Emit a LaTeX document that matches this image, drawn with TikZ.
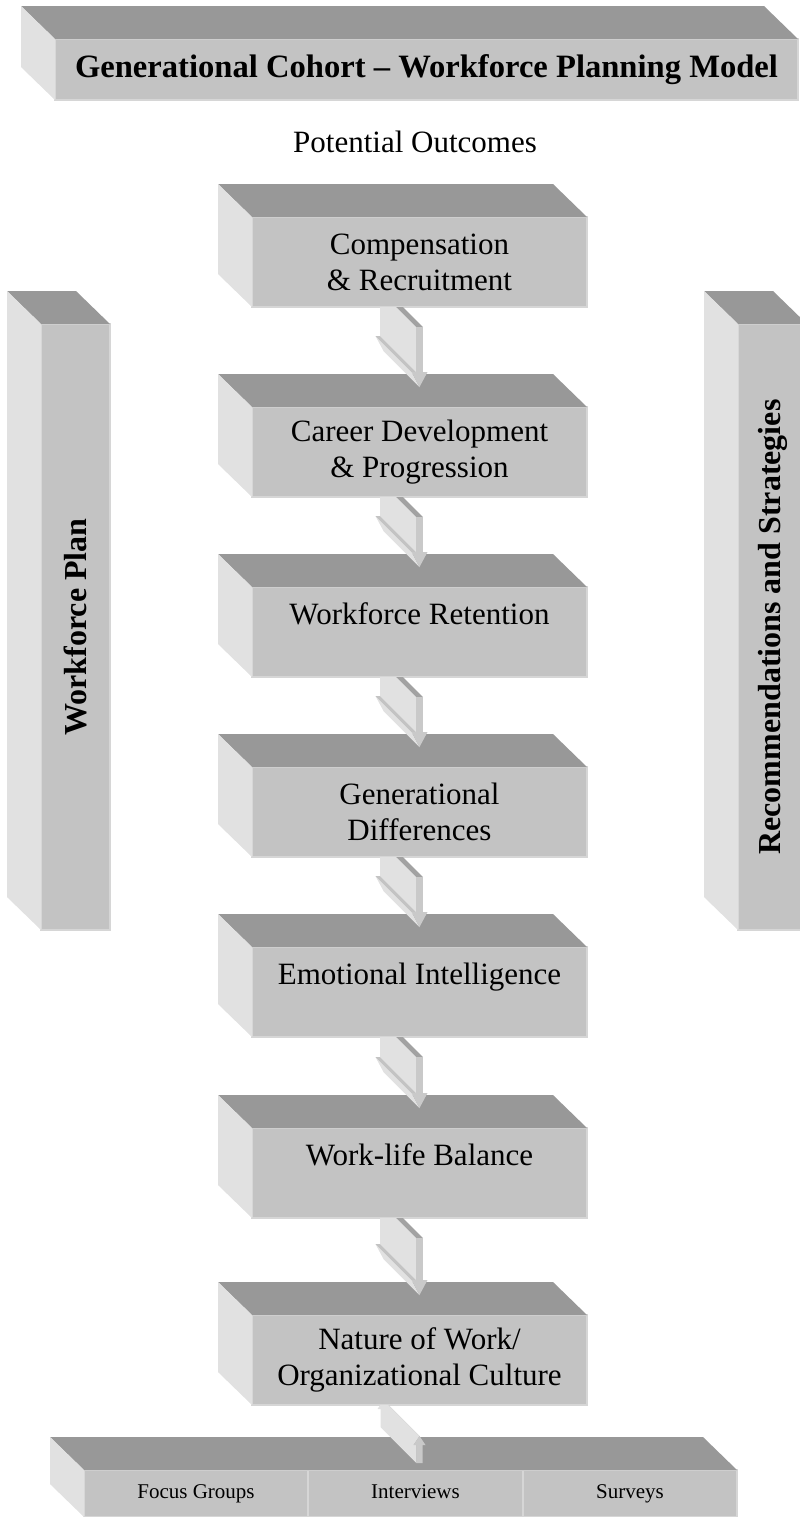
\documentclass[tikz,border=0pt]{standalone}
\usepackage{fontspec}
\setmainfont{Liberation Serif}
\usetikzlibrary{positioning,calc}

\definecolor{slabfront}{RGB}{195,195,195}
\definecolor{slabedge}{RGB}{214,214,214}
\definecolor{slabdark}{RGB}{152,152,152}
\definecolor{slablight}{RGB}{225,225,225}
\tikzstyle{slabtop} = [fill=slabdark]
\tikzstyle{slabside} = [fill=slablight]
\tikzstyle{linktop} = [fill=slabdark!90!white]
\tikzstyle{linkwing} = [fill=slabfront]
\tikzstyle{linkside} = [fill=slablight]
\tikzstyle{linkfront} = [fill=slabfront!90!white]

% top and left faces of a box (from the left node to the right node)
\newcommand{\drawslab}[2]{%
  \fill[slabtop] (#1.north west) -- ++(-34,-33) -- ($(#2.north east)+(-34,-33)$) -- (#2.north east) -- cycle;
  \fill[slabside] (#1.north west) -- ++(-34,-33) -- ($(#1.south west)+(-34,-33)$) -- (#1.south west) -- cycle;
}

% flat 3d arrow pointing down, #1 upper box, #2 lower box
\newcommand{\downlink}[2]{%
  \begin{scope}
    \clip ($(#1.south)+(-100,0)$) rectangle ($(#2.north)+(100,0)$);
    \coordinate (s) at ($(#1.south)+(0,20)$);
    \coordinate (t) at ($(#2.north)+(0,-20)$);
    \coordinate (h) at ($(t)+(0,-15)$);
    \fill[linktop] ($(s)+(-3.5,0)$) -- ($(s)+(3.5,0)$) -- ++(-36,-36) -- ($(s)+(-39.5,-36)$) -- cycle;
    \fill[linkside] ($(s)+(-3.5,0)$) -- ($(h)+(-3.5,0)$) -- ++(-36,-36) -- ($(s)+(-39.5,-36)$) -- cycle;
    \fill[linkside] ($(h)+(-8,0)$) -- (t) -- ++(-36,-36) -- ($(h)+(-44,-36)$) -- cycle;
    \fill[linkwing] ($(h)+(-8,0)$) -- ($(h)+(-3.5,0)$) -- ++(-36,-36) -- ($(h)+(-44,-36)$) -- cycle;
    \fill[linkfront] ($(s)+(-3.5,0)$) rectangle ($(h)+(3.5,0)$);
    \fill[linkfront] ($(h)+(-8,0)$) -- ($(h)+(8,0)$) -- (t) -- cycle;
  \end{scope}}

% flat 3d arrow pointing up, #1 lower box, #2 upper box
\newcommand{\uplink}[2]{%
  \begin{scope}
    \clip ($(#2.south)+(-100,0)$) rectangle ($(#2.south |- #1.north)+(100,0)$);
    \coordinate (t) at ($(#2.south)+(0,31)$);
    \coordinate (h) at ($(t)+(0,9)$);
    \coordinate (b) at ($(t |- #1.north)+(0,-7)$);
    \fill[linktop] (t) -- ($(h)+(6,0)$) -- ++(-36,-36) -- ($(t)+(-36,-36)$) -- cycle;
    \fill[linkside] (t) -- ($(h)+(-6,0)$) -- ($(h)+(-3,0)$) -- ($(b)+(-3,0)$) -- ($(b)+(-39,-36)$)
      -- ($(h)+(-39,-36)$) -- ($(h)+(-42,-36)$) -- ($(t)+(-36,-36)$) -- cycle;
    \fill[linkfront] (t) -- ($(h)+(6,0)$) -- ($(h)+(3,0)$) -- ($(b)+(3,0)$) -- ($(b)+(-3,0)$)
      -- ($(h)+(-3,0)$) -- ($(h)+(-6,0)$) -- cycle;
  \end{scope}}

\begin{document}
\begin{tikzpicture}[x=0.5pt, y=-0.5pt,
            node distance=45pt,
            every node/.style={text centered, inner sep=0pt, outer sep=0pt},
            slab/.style={rectangle, draw=slabedge, line width=0.8pt, fill=slabfront, align=center},
            banner/.style={slab, minimum width=371.5pt, minimum height=30.5pt, font=\fontsize{16.3}{19}\selectfont\bfseries},
            outcome/.style={slab, minimum width=167.5pt, minimum height=45pt, font=\fontsize{15.5}{18}\selectfont},
            pillar/.style={slab, minimum width=34.5pt, minimum height=303pt, font=\fontsize{16}{19}\selectfont\bfseries},
            method/.style={slab, minimum height=23.5pt, text height=7.5pt, text depth=2.5pt, font=\fontsize{10.5}{12}\selectfont}
        ]
            \useasboundingbox (0,0) rectangle (799,1517);

            % Nodes
            \node (title) [banner] at (426.5,69.5) {Generational Cohort -- Workforce Planning Model};
            \node (outcomes) [anchor=base, font=\fontsize{15.5}{18}\selectfont] at (415,152) {Potential Outcomes};

            \node (comp) [outcome] at (419.5,262) {Compensation\\ \& Recruitment};
            \node (career) [outcome, below=50pt of comp] {Career Development\\ \& Progression};
            \node (retain) [outcome, below=of career] {Workforce Retention\\ \mbox{}};
            \node (gendiff) [outcome, below=of retain] {Generational\\ Differences};
            \node (emotion) [outcome, below=of gendiff] {Emotional Intelligence\\ \mbox{}};
            \node (balance) [outcome, below=45.5pt of emotion] {Work-life Balance\\ \mbox{}};
            \node (nature) [outcome, below=48.5pt of balance] {Nature of Work/\\ Organizational Culture};

            \node (focus) [method, minimum width=112pt] at (196,1493.5) {Focus Groups};
            \node (interviews) [method, minimum width=107.5pt, right=0pt of focus] {Interviews};
            \node (surveys) [method, minimum width=107pt, right=0pt of interviews] {Surveys};

            \node (plan) [pillar] at (75.5,627) {\rotatebox{90}{Workforce Plan}};
            \node (recs) [pillar] at (772.5,627) {\rotatebox{90}{Recommendations and Strategies}};

            % Box sides
            \foreach \n in {title, comp, career, retain, gendiff, emotion, balance, nature, plan, recs}
                \drawslab{\n}{\n};
            \drawslab{focus}{surveys};

            % Arrows
            \downlink{comp}{career}
            \downlink{career}{retain}
            \downlink{retain}{gendiff}
            \downlink{gendiff}{emotion}
            \downlink{emotion}{balance}
            \downlink{balance}{nature}
            \uplink{interviews}{nature}
        \end{tikzpicture}
\end{document}
